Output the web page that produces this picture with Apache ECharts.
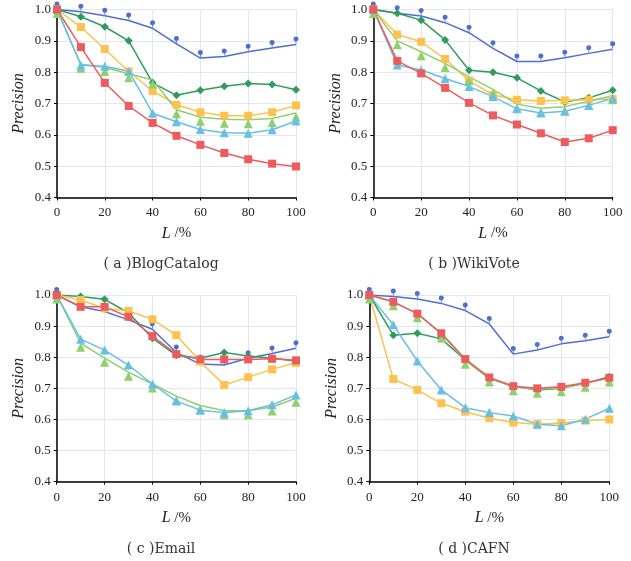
<!DOCTYPE html>
<html>
<head>
<meta charset="utf-8">
<script src="https://cdn.jsdelivr.net/npm/echarts@6/dist/echarts.min.js"></script>
<style>
  html, body { margin: 0; padding: 0; background: #fff; }
  #echarts { width: 631px; height: 561px; }
</style>
</head>
<body>
<div id="echarts"></div>
<script>
// 横轴 L/%
const lValues = [0, 10, 20, 30, 40, 50, 60, 70, 80, 90, 100]
const yTicks = [0.4, 0.5, 0.6, 0.7, 0.8, 0.9, 1.0]
const captions = ['( a )BlogCatalog', '( b )WikiVote', '( c )Email', '( d )CAFN']

// (a) BlogCatalog
const blogBlue = [1.0, 0.993, 0.98, 0.965, 0.94, 0.89, 0.845, 0.85, 0.865, 0.877, 0.888]
const blogGreen = [1.0, 0.977, 0.945, 0.9, 0.766, 0.726, 0.742, 0.755, 0.764, 0.761, 0.744]
const blogYellow = [1.0, 0.944, 0.874, 0.802, 0.74, 0.696, 0.672, 0.661, 0.661, 0.672, 0.694]
const blogLightGreen = [1.0, 0.825, 0.815, 0.795, 0.775, 0.68, 0.656, 0.65, 0.648, 0.652, 0.67]
const blogLightBlue = [1.0, 0.822, 0.819, 0.803, 0.669, 0.642, 0.617, 0.607, 0.605, 0.616, 0.644]
const blogRed = [1.0, 0.88, 0.766, 0.692, 0.638, 0.597, 0.568, 0.542, 0.522, 0.508, 0.499]

// (b) WikiVote
const wikiBlue = [1.0, 0.988, 0.979, 0.958, 0.926, 0.876, 0.834, 0.834, 0.846, 0.86, 0.873]
const wikiGreen = [1.0, 0.988, 0.966, 0.903, 0.806, 0.8, 0.782, 0.74, 0.705, 0.718, 0.742]
const wikiYellow = [1.0, 0.92, 0.897, 0.842, 0.773, 0.727, 0.712, 0.708, 0.71, 0.712, 0.714]
const wikiLightGreen = [1.0, 0.9, 0.865, 0.828, 0.785, 0.745, 0.698, 0.685, 0.69, 0.707, 0.725]
const wikiLightBlue = [1.0, 0.823, 0.807, 0.78, 0.754, 0.722, 0.683, 0.67, 0.675, 0.694, 0.717]
const wikiRed = [1.0, 0.836, 0.796, 0.75, 0.702, 0.662, 0.633, 0.605, 0.577, 0.589, 0.615]

// (c) Email
const emailBlue = [1.0, 0.962, 0.947, 0.92, 0.89, 0.815, 0.778, 0.775, 0.797, 0.812, 0.829]
const emailGreen = [1.0, 0.995, 0.986, 0.943, 0.861, 0.806, 0.797, 0.815, 0.804, 0.797, 0.788]
const emailYellow = [1.0, 0.984, 0.957, 0.949, 0.922, 0.871, 0.786, 0.711, 0.736, 0.761, 0.782]
const emailLightGreen = [1.0, 0.845, 0.797, 0.752, 0.714, 0.675, 0.645, 0.628, 0.628, 0.64, 0.668]
const emailLightBlue = [1.0, 0.858, 0.823, 0.775, 0.714, 0.659, 0.63, 0.622, 0.628, 0.647, 0.679]
const emailRed = [1.0, 0.962, 0.962, 0.93, 0.868, 0.81, 0.793, 0.793, 0.793, 0.795, 0.79]

// (d) CAFN
const cafnBlue = [1.0, 0.995, 0.987, 0.973, 0.95, 0.907, 0.81, 0.823, 0.843, 0.853, 0.866]
const cafnGreen = [1.0, 0.871, 0.877, 0.859, 0.791, 0.732, 0.707, 0.695, 0.7, 0.716, 0.737]
const cafnYellow = [1.0, 0.73, 0.695, 0.652, 0.625, 0.604, 0.59, 0.585, 0.589, 0.596, 0.6]
const cafnLightGreen = [1.0, 0.978, 0.94, 0.875, 0.79, 0.733, 0.705, 0.697, 0.702, 0.716, 0.733]
const cafnLightBlue = [1.0, 0.904, 0.788, 0.695, 0.638, 0.622, 0.611, 0.585, 0.58, 0.601, 0.636]
const cafnRed = [1.0, 0.978, 0.94, 0.877, 0.794, 0.735, 0.707, 0.7, 0.705, 0.718, 0.734]

const panels = [
  [blogBlue, blogGreen, blogYellow, blogLightGreen, blogLightBlue, blogRed],
  [wikiBlue, wikiGreen, wikiYellow, wikiLightGreen, wikiLightBlue, wikiRed],
  [emailBlue, emailGreen, emailYellow, emailLightGreen, emailLightBlue, emailRed],
  [cafnBlue, cafnGreen, cafnYellow, cafnLightGreen, cafnLightBlue, cafnRed],
]

// 子图位置
const grids = [
  { left: 57, top: 9.5, width: 239, height: 188 },
  { left: 373.3, top: 9.5, width: 239.4, height: 188 },
  { left: 56.7, top: 295, width: 239.3, height: 186.7 },
  { left: 369.3, top: 295, width: 240, height: 186.7 },
]
const captionPos = [[156, 252], [469, 252], [156, 537], [469, 537]]

const FONT = '"Liberation Serif", serif'
const CAPTION_FONT = '"DejaVu Serif", serif'
const PIN = 'path://M5,0A5,5 0 1,1 4.99,0ZM4.2,9L5.8,9L5.8,14L4.2,14Z'

const styles = [
  { color: '#4e6fd0', symbol: PIN, size: [5, 7], offset: [0, -4.5] },
  { color: '#2f9c5c', symbol: 'diamond', size: 8, offset: [0, 0] },
  { color: '#fbc24e', symbol: 'rect', size: 8, offset: [0, 0] },
  { color: '#90cf6e', symbol: 'triangle', size: 9, offset: [0, 4] },
  { color: '#66bfe4', symbol: 'triangle', size: 9, offset: [0, 0] },
  { color: '#ec5c5c', symbol: 'rect', size: 8, offset: [0, 0] },
]

const series = []
panels.forEach((panel, p) => {
  panel.forEach((values, s) => {
    const st = styles[s]
    series.push({
      type: 'line',
      name: 'p' + p + 's' + s,
      xAxisIndex: p,
      yAxisIndex: p,
      data: lValues.map((x, i) => [x, values[i]]),
      symbol: st.symbol,
      symbolSize: st.size,
      symbolOffset: st.offset,
      showAllSymbol: true,
      lineStyle: { color: st.color, width: 1.5 },
      itemStyle: { color: st.color },
      silent: true,
      animation: false,
    })
  })
})

const xAxis = grids.map((g, i) => ({
  type: 'value',
  gridIndex: i,
  min: 0,
  max: 100,
  interval: 20,
  name: '{i|L}{n| /%}',
  nameLocation: 'middle',
  nameGap: 28,
  nameTextStyle: {
    rich: {
      i: { fontFamily: FONT, fontStyle: 'italic', fontSize: 16, color: '#222' },
      n: { fontFamily: FONT, fontSize: 15, color: '#222' },
    },
  },
  axisLine: { lineStyle: { color: '#000', width: 1.5 } },
  axisTick: { show: true, length: 3, lineStyle: { color: '#000' } },
  axisLabel: { fontFamily: FONT, fontSize: 13, color: '#222', margin: 9 },
  splitLine: { show: true, lineStyle: { color: '#e2e6f3', width: 1 } },
}))

const yAxis = grids.map((g, i) => ({
  type: 'value',
  gridIndex: i,
  min: yTicks[0],
  max: yTicks[yTicks.length - 1],
  interval: 0.1,
  name: 'Precision',
  nameLocation: 'middle',
  nameGap: 30,
  nameTextStyle: { fontFamily: FONT, fontStyle: 'italic', fontSize: 16, color: '#222' },
  axisLine: { show: true, lineStyle: { color: '#000', width: 1.5 } },
  axisTick: { show: true, length: 3, lineStyle: { color: '#000' } },
  axisLabel: { fontFamily: FONT, fontSize: 13, color: '#222', margin: 6, formatter: v => v.toFixed(1) },
  splitLine: { show: true, lineStyle: { color: '#e2e6f3', width: 1 } },
}))

const title = captions.map((c, i) => ({
  text: c,
  left: captionPos[i][0],
  top: captionPos[i][1],
  textAlign: 'center',
  textStyle: { fontFamily: CAPTION_FONT, fontSize: 14, fontWeight: 'normal', color: '#333' },
}))

const chart = echarts.init(document.querySelector('#echarts'))
chart.setOption({
  backgroundColor: '#fff',
  animation: false,
  title,
  grid: grids,
  xAxis,
  yAxis,
  series,
})
</script>
</body>
</html>
